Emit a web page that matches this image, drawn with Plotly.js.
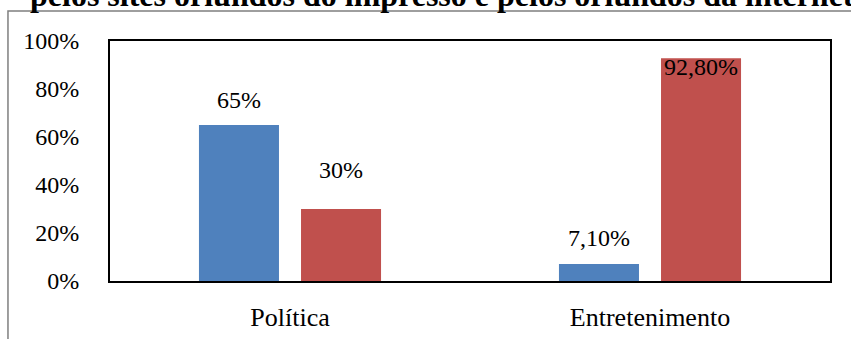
<!DOCTYPE html>
<html>
<head>
<meta charset="utf-8">
<script src="https://cdn.plot.ly/plotly-3.0.1.min.js"></script>
<style>
html,body{margin:0;padding:0;background:#fff;}
#chart{width:851px;height:339px;}
</style>
</head>
<body>
<div id="chart"></div>
<script>
// Data
var categories = ["Política", "Entretenimento"];
var seriesImpresso = [65, 7.1];
var seriesInternet = [30, 92.8];
var labelsImpresso = ["65%", "7,10%"];
var labelsInternet = ["30%", "92,80%"];
var titleText = "pelos sites oriundos do impresso e pelos oriundos da internet";
var yTickVals = [0, 20, 40, 60, 80, 100];
var yTickText = ["0%", "20%", "40%", "60%", "80%", "100%"];

// label pixel offsets (style)
var offImpresso = [25, 26];
var offInternet = [39, -9];

var serif = "Liberation Serif";

var traces = [
  {type: "bar", x: categories, y: seriesImpresso, name: "Impresso",
   marker: {color: "#4F81BD"}, hoverinfo: "none"},
  {type: "bar", x: categories, y: seriesInternet, name: "Internet",
   marker: {color: "#C0504D"}, hoverinfo: "none"}
];

var annotations = [];
for (var i = 0; i < categories.length; i++) {
  annotations.push({x: categories[i], y: seriesImpresso[i], xref: "x", yref: "y",
    text: labelsImpresso[i], showarrow: false, xshift: -51, yshift: offImpresso[i],
    yanchor: "middle", font: {family: serif, size: 24, color: "#000"}});
  annotations.push({x: categories[i], y: seriesInternet[i], xref: "x", yref: "y",
    text: labelsInternet[i], showarrow: false, xshift: 51, yshift: offInternet[i],
    yanchor: "middle", font: {family: serif, size: 24, color: "#000"}});
}
annotations.push({x: -0.114, y: 1.19, xref: "paper", yref: "paper", xanchor: "left",
  yanchor: "middle", text: "<b>" + titleText + "</b>", showarrow: false,
  font: {family: serif, size: 32, color: "#000"}});

var layout = {
  width: 851, height: 339,
  margin: {l: 110, r: 21, t: 41, b: 58, pad: 0},
  paper_bgcolor: "#fff", plot_bgcolor: "#fff",
  showlegend: false,
  font: {family: serif, color: "#000"},
  bargap: 0.433, bargroupgap: 0.216, barmode: "group",
  xaxis: {showline: true, mirror: true, linecolor: "#000", linewidth: 2,
    ticks: "", showgrid: false, zeroline: false,
    tickfont: {family: serif, size: 26, color: "#000"}, ticklabelstandoff: 12},
  yaxis: {range: [0, 100], tickvals: yTickVals, ticktext: yTickText,
    showline: true, mirror: true, linecolor: "#000", linewidth: 2,
    ticks: "", showgrid: false, zeroline: false,
    tickfont: {family: serif, size: 24, color: "#000"}, ticklabelstandoff: 24},
  annotations: annotations,
  shapes: [{type: "rect", xref: "paper", yref: "paper", x0: -0.1417, x1: 1.3,
    y0: -0.6, y1: 1.125, line: {color: "#7f7f7f", width: 1.5}, layer: "below"}]
};

Plotly.newPlot("chart", traces, layout, {displayModeBar: false, staticPlot: true});
</script>
</body>
</html>
